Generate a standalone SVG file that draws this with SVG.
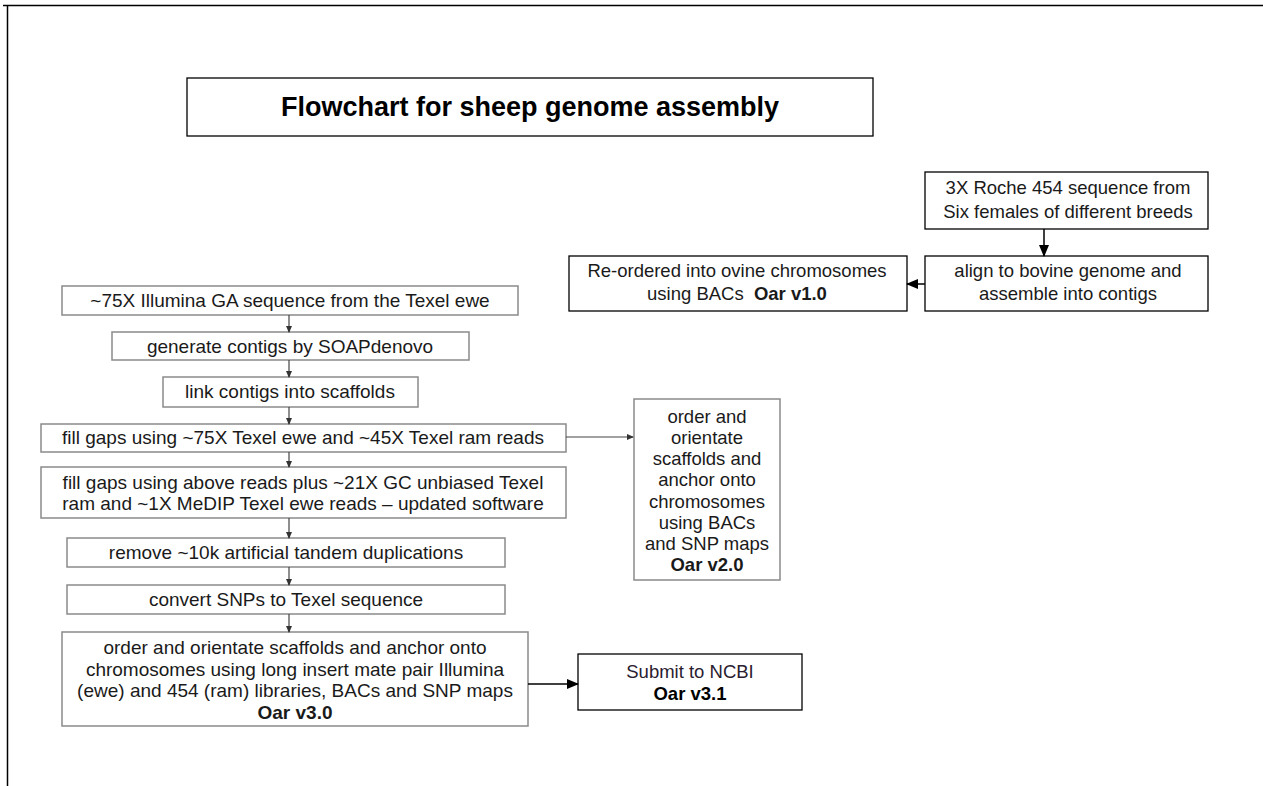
<svg xmlns="http://www.w3.org/2000/svg" width="1263" height="786" viewBox="0 0 1263 786">
<defs>
<marker id="sm" markerUnits="userSpaceOnUse" markerWidth="7" markerHeight="6" refX="6" refY="3" orient="auto"><path d="M0,0 L7,3 L0,6 z" fill="#333"/></marker>
<marker id="lg" markerUnits="userSpaceOnUse" markerWidth="12" markerHeight="10" refX="11" refY="5" orient="auto"><path d="M0,0 L12,5 L0,10 z" fill="#000"/></marker>
</defs>
<style>
text{font-family:"Liberation Sans",Arial,sans-serif;font-size:18.5px;fill:#1a1a1a;text-anchor:middle}
.l{font-size:19px}
.t{font-size:27px;font-weight:bold;fill:#000}
.b{font-weight:bold}
.g{fill:#fff;stroke:#8a8a8a;stroke-width:1.5}
.k{fill:#fff;stroke:#000;stroke-width:1.3}
.c{fill:none;stroke:#444;stroke-width:1.2}
.ck{fill:none;stroke:#000;stroke-width:1.5}
</style>
<rect width="1263" height="786" fill="#fff"/>
<g id="frame"><path d="M3,5.5 H1263 M7.5,5 V786" fill="none" stroke="#000" stroke-width="1.5"/></g>
<g id="title"><rect class="k" x="187" y="78" width="686" height="58"/><text class="t" x="530" y="116">Flowchart for sheep genome assembly</text></g>
<g id="roche"><rect class="k" x="925" y="172" width="283" height="57"/><text x="1068" y="194">3X Roche 454 sequence from</text><text x="1068" y="218">Six females of different breeds</text></g>
<g id="align"><rect class="k" x="925" y="256" width="283" height="55"/><text x="1068" y="277">align to bovine genome and</text><text x="1068" y="300">assemble into contigs</text></g>
<g id="reordered"><rect class="k" x="569" y="256" width="338" height="55"/><text x="737" y="277">Re-ordered into ovine chromosomes</text><text x="737" y="300">using BACs <tspan class="b" dx="5">Oar v1.0</tspan></text></g>
<g id="n1"><rect class="g" x="62" y="286" width="456" height="29"/><text class="l" x="290" y="307">~75X Illumina GA sequence from the Texel ewe</text></g>
<g id="n2"><rect class="g" x="112" y="332" width="357" height="28"/><text class="l" x="290" y="353">generate contigs by SOAPdenovo</text></g>
<g id="n3"><rect class="g" x="163" y="377" width="255" height="30"/><text class="l" x="290" y="398">link contigs into scaffolds</text></g>
<g id="n4"><rect class="g" x="41" y="424" width="525" height="28"/><text class="l" x="303" y="444">fill gaps using ~75X Texel ewe and ~45X Texel ram reads</text></g>
<g id="n5"><rect class="g" x="41" y="467" width="525" height="51"/><text class="l" x="303" y="489">fill gaps using above reads plus ~21X GC unbiased Texel</text><text class="l" x="303" y="510">ram and ~1X MeDIP Texel ewe reads – updated software</text></g>
<g id="n6"><rect class="g" x="67" y="538" width="438" height="29"/><text class="l" x="286" y="559">remove ~10k artificial tandem duplications</text></g>
<g id="n7"><rect class="g" x="67" y="585" width="438" height="29"/><text class="l" x="286" y="606">convert SNPs to Texel sequence</text></g>
<g id="n8"><rect class="g" x="62" y="632" width="466" height="94"/><text class="l" x="295" y="654">order and orientate scaffolds and anchor onto</text><text class="l" x="295" y="676">chromosomes using long insert mate pair Illumina</text><text class="l" x="295" y="697">(ewe) and 454 (ram) libraries, BACs and SNP maps</text><text class="l b" x="295" y="719">Oar v3.0</text></g>
<g id="v2"><rect class="g" x="634" y="399" width="146" height="181"/><text x="707" y="423">order and</text><text x="707" y="444">orientate</text><text x="707" y="465">scaffolds and</text><text x="707" y="486">anchor onto</text><text x="707" y="508">chromosomes</text><text x="707" y="529">using BACs</text><text x="707" y="550">and SNP maps</text><text class="b" x="707" y="571">Oar v2.0</text></g>
<g id="submit"><rect class="k" x="578" y="654" width="224" height="56"/><text x="690" y="678" style="fill:#2a2030">Submit to NCBI</text><text class="b" x="690" y="700" style="fill:#000">Oar v3.1</text></g>
<g id="connectors">
<path class="c" d="M289,315 V332" marker-end="url(#sm)"/>
<path class="c" d="M289,360 V377" marker-end="url(#sm)"/>
<path class="c" d="M289,407 V424" marker-end="url(#sm)"/>
<path class="c" d="M289,452 V467" marker-end="url(#sm)"/>
<path class="c" d="M289,518 V538" marker-end="url(#sm)"/>
<path class="c" d="M289,567 V585" marker-end="url(#sm)"/>
<path class="c" d="M289,614 V632" marker-end="url(#sm)"/>
<path class="c" d="M566,437 H633" marker-end="url(#sm)"/>
<path class="ck" d="M528,684 H578" marker-end="url(#lg)"/>
<path class="ck" d="M1044,229 V256" marker-end="url(#lg)"/>
<path class="ck" d="M925,284 H907" marker-end="url(#lg)"/>
</g>
</svg>
